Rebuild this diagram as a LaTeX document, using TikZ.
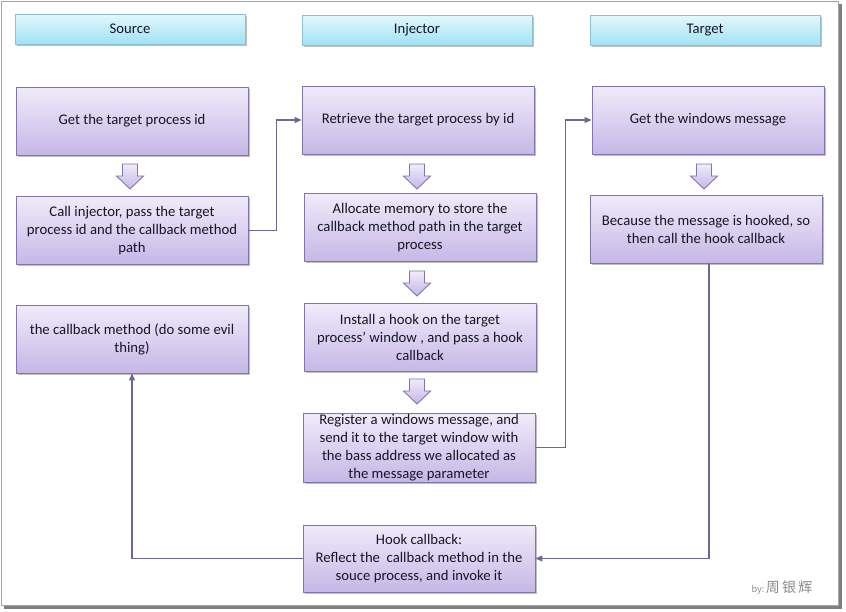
\documentclass[tikz,border=0pt]{standalone}
\usepackage{fontspec}
\setmainfont{Carlito}
\newfontfamily\cjk{Noto Sans CJK SC}
\usetikzlibrary{arrows.meta,shadows,calc}
\definecolor{boxtop}{RGB}{240,235,250}
\definecolor{boxbot}{RGB}{198,183,230}
\definecolor{boxline}{RGB}{128,118,172}
\definecolor{headtop}{RGB}{226,248,253}
\definecolor{headbot}{RGB}{160,226,244}
\definecolor{headline}{RGB}{140,192,212}
\definecolor{connline}{RGB}{112,102,150}
\definecolor{txt}{RGB}{22,22,38}
\tikzset{
  box/.style={draw=boxline, line width=0.9pt, top color=boxtop, bottom color=boxbot,
    minimum width=232pt, minimum height=68pt, align=center, text=txt,
    font=\fontsize{14.7}{18}\selectfont, inner sep=1pt,
    drop shadow={shadow xshift=1.5pt, shadow yshift=-1.5pt, fill=black, opacity=0.25}},
  head/.style={draw=headline, line width=0.9pt, top color=headtop, bottom color=headbot,
    minimum width=230pt, minimum height=30pt, text=txt,
    font=\fontsize{14.7}{16}\selectfont,
    drop shadow={shadow xshift=1.5pt, shadow yshift=-1.5pt, fill=black, opacity=0.25}},
  conn/.style={draw=connline, line width=1.1pt, -{Triangle[length=7pt,width=6pt]}},
  barrow/.style={draw=boxline, line width=0.9pt, top color=boxtop, bottom color=boxbot},
  downarr/.pic={\path[barrow] (-7.5,-12) -- (7.5,-12) -- (7.5,0) -- (13.5,0) -- (0,13) -- (-13.5,0) -- (-7.5,0) -- cycle;}
}
\begin{document}
\begin{tikzpicture}[x=1pt,y=-1pt]
\useasboundingbox (0,0) rectangle (846,611);
% outer frame
\fill[black!50] (4,4) rectangle (842,609);
\draw[draw=black!35, fill=white, line width=0.8pt] (1,1) rectangle (838,605);
% headers
\node[head] (hs) at (130,29) {Source};
\node[head] (hi) at (417,30) {Injector};
\node[head] (ht) at (705,30.5) {Target};
% source column
\node[box] (s1) at (132,121) {Get the target process id};
\node[box] (s2) at (132,230.5) {Call injector, pass the target\\process id and the callback method\\path};
\node[box] (s3) at (132,339) {the callback method (do some evil\\thing)};
% injector column
\node[box] (i1) at (418,120) {Retrieve the target process by id};
\node[box] (i2) at (420,227.5) {Allocate memory to store the\\callback method path in the target\\process};
\node[box] (i3) at (420,337.5) {Install a hook on the target\\process' window , and pass a hook\\callback};
\node[box, minimum height=69pt] (i4) at (419,447.5) {Register a windows message, and\\send it to the target window with\\the bass address we allocated as\\the message parameter};
\node[box, minimum height=67pt] (i5) at (419,558.5) {Hook callback:\\Reflect the~ callback method in the\\souce process, and invoke it};
% target column
\node[box] (t1) at (708,120) {Get the windows message};
\node[box] (t2) at (706,229) {Because the message is hooked, so\\then call the hook callback};
% block arrows
\pic at (130,176) {downarr};
\pic at (417,176) {downarr};
\pic at (417,283) {downarr};
\pic at (417,391) {downarr};
\pic at (704,176) {downarr};
% connectors
\draw[conn] (s2.east) -- ($(s2.east)+(28,0)$) |- (i1.west);
\draw[conn] (i4.east) -- ($(i4.east)+(30,0)$) |- (t1.west);
\draw[conn] ($(t2.south)+(3,0)$) |- (i5.east);
\draw[conn] (i5.west) -| (s3.south);
% signature
\node[text=black!45, font=\cjk\fontsize{9}{12}\selectfont, anchor=west] (sig) at (748,588) {by:\,\fontsize{14}{16}\selectfont 周\,银\,辉};
\end{tikzpicture}
\end{document}
